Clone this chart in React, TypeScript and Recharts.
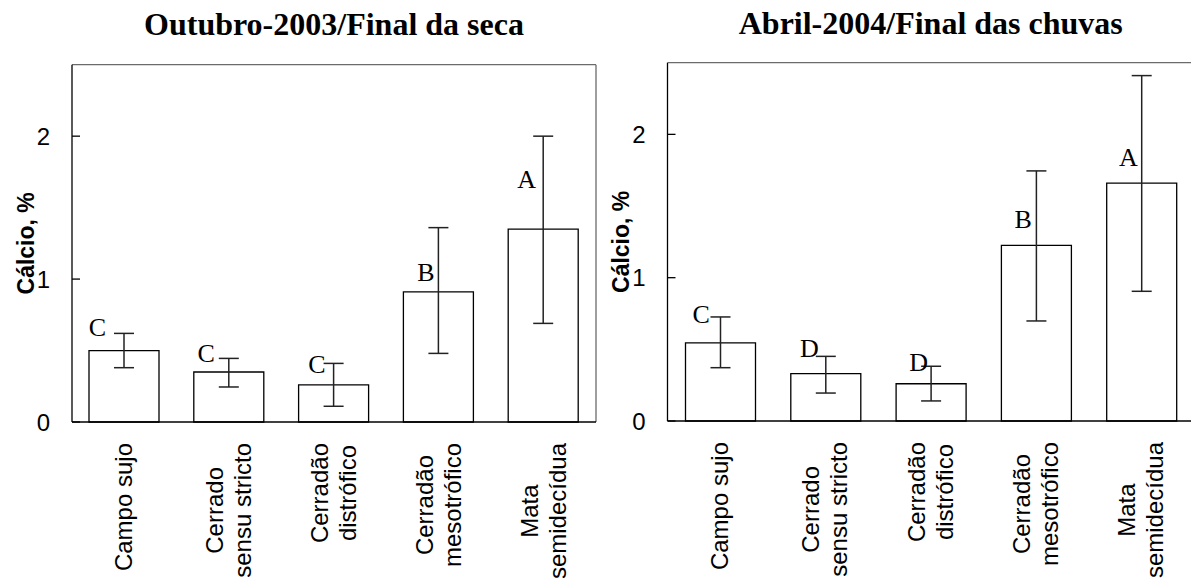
import React from 'react';
import {
  ComposedChart,
  Bar,
  ErrorBar,
  Scatter,
  XAxis,
  YAxis,
  CartesianGrid,
} from 'recharts';

const categories = [
  'Campo sujo',
  'Cerrado\nsensu stricto',
  'Cerradão\ndistrófico',
  'Cerradão\nmesotrófico',
  'Mata\nsemidecídua',
];

// Outubro-2003 / Final da seca
const outMean = [0.5, 0.35, 0.26, 0.91, 1.35];
const outLow = [0.38, 0.245, 0.11, 0.48, 0.69];
const outHigh = [0.62, 0.445, 0.41, 1.36, 2.0];
const outLetters = ['C', 'C', 'C', 'B', 'A'];
const outLetterY = [0.665, 0.485, 0.405, 1.05, 1.7];

// Abril-2004 / Final das chuvas
const abrMean = [0.545, 0.33, 0.26, 1.225, 1.66];
const abrLow = [0.372, 0.195, 0.14, 0.698, 0.905];
const abrHigh = [0.726, 0.451, 0.382, 1.745, 2.41];
const abrLetters = ['C', 'D', 'D', 'B', 'A'];
const abrLetterY = [0.747, 0.509, 0.414, 1.41, 1.842];

const yTicks = [0, 1, 2];
const yDomain: [number, number] = [0, 2.5];

const SANS = "'Liberation Sans', Arial, sans-serif";
const SERIF = "'Liberation Serif', 'Times New Roman', serif";
const LABEL_SIZE = 24;
const Y_AXIS_W = 40;

let measureCtx: CanvasRenderingContext2D | null = null;
const textWidth = (s: string) => {
  if (!measureCtx) measureCtx = document.createElement('canvas').getContext('2d');
  if (!measureCtx) return s.length * LABEL_SIZE * 0.52;
  measureCtx.font = `${LABEL_SIZE}px ${SANS}`;
  return measureCtx.measureText(s).width;
};

const buildRows = (mean: number[], low: number[], high: number[], letters: string[], letterY: number[]) =>
  categories.map((name, i) => ({
    name,
    mean: mean[i],
    err: [mean[i] - low[i], high[i] - mean[i]],
    letter: letters[i],
    letterY: letterY[i],
  }));

const XTick = ({ x, y, payload }: any) => {
  const lines = String(payload.value).split('\n');
  const maxW = Math.max(...lines.map(textWidth));
  const cy = y + 21 + maxW / 2;
  return (
    <g>
      {lines.map((line, i) => {
        const bx = x + 8 + (i - (lines.length - 1) / 2) * 28;
        return (
          <text
            key={i}
            x={bx}
            y={cy}
            transform={`rotate(-90, ${bx}, ${cy})`}
            textAnchor="middle"
            fontFamily={SANS}
            fontSize={LABEL_SIZE}
            fill="#000"
          >
            {line}
          </text>
        );
      })}
    </g>
  );
};

const YTick = ({ x, y, payload }: any) => (
  <g>
    <line x1={x} x2={x + 8} y1={y} y2={y} stroke="#000" strokeWidth={1.3} />
    <text x={x - 22} y={y + 8.5} textAnchor="end" fontFamily={SANS} fontSize={24} fill="#000">
      {payload.value}
    </text>
  </g>
);

interface PanelProps {
  left: number;
  width: number;
  margin: { top: number; right: number; bottom: number; left: number };
  title: string;
  titleTop: number;
  rows: ReturnType<typeof buildRows>;
  letterDx: number[];
}

function Panel({ left, width, margin, title, titleTop, rows, letterDx }: PanelProps) {
  const LetterShape = (props: any) => {
    const { cx, cy, index } = props;
    return (
      <text
        x={cx + letterDx[index]}
        y={cy + 9}
        textAnchor="middle"
        fontFamily={SERIF}
        fontSize={26}
        fill="#000"
      >
        {props.payload.letter}
      </text>
    );
  };

  const plotLeft = margin.left + Y_AXIS_W;
  const plotW = width - margin.right - plotLeft;

  return (
    <div style={{ position: 'absolute', left, top: 0, width, height: 578 }}>
      <div
        style={{
          position: 'absolute',
          left: plotLeft,
          width: plotW,
          top: titleTop,
          textAlign: 'center',
          fontFamily: SERIF,
          fontWeight: 'bold',
          fontSize: 32,
          lineHeight: '32px',
          whiteSpace: 'nowrap',
          color: '#000',
        }}
      >
        {title}
      </div>
      <ComposedChart width={width} height={578} data={rows} margin={margin}>
        <CartesianGrid
          xAxisId="bottom"
          yAxisId="left"
          stroke="#6b6b6b"
          strokeWidth={1.3}
          horizontalCoordinatesGenerator={({ offset }: any) => [offset.top]}
          verticalCoordinatesGenerator={({ offset }: any) => [offset.left + offset.width]}
        />
        <XAxis
          dataKey="name"
          xAxisId="bottom"
          height={150}
          interval={0}
          tickSize={0}
          tickMargin={0}
          tickLine={false}
          axisLine={{ stroke: '#000', strokeWidth: 1.3 }}
          tick={<XTick />}
        />
        <YAxis
          yAxisId="left"
          width={Y_AXIS_W}
          domain={yDomain}
          ticks={yTicks}
          tickSize={0}
          tickMargin={0}
          tickLine={false}
          axisLine={{ stroke: '#000', strokeWidth: 1.3 }}
          tick={<YTick />}
          label={{
            content: ({ viewBox }: any) => {
              const bx = viewBox.x + viewBox.width - 38;
              const cy = viewBox.y + viewBox.height / 2;
              return (
                <text
                  x={bx}
                  y={cy}
                  transform={`rotate(-90, ${bx}, ${cy})`}
                  textAnchor="middle"
                  fontFamily={SANS}
                  fontWeight="bold"
                  fontSize={23}
                  fill="#000"
                >
                  Cálcio, %
                </text>
              );
            },
          }}
        />
        <Bar
          dataKey="mean"
          xAxisId="bottom"
          yAxisId="left"
          barSize={70}
          fill="#fff"
          stroke="#000"
          strokeWidth={1.3}
          isAnimationActive={false}
        >
          <ErrorBar dataKey="err" width={10} stroke="#222" strokeWidth={1.5} />
        </Bar>
        <Scatter
          dataKey="letterY"
          xAxisId="bottom"
          yAxisId="left"
          shape={LetterShape}
          isAnimationActive={false}
        />
      </ComposedChart>
    </div>
  );
}

export default function App() {
  const outRows = buildRows(outMean, outLow, outHigh, outLetters, outLetterY);
  const abrRows = buildRows(abrMean, abrLow, abrHigh, abrLetters, abrLetterY);
  return (
    <div
      style={{
        position: 'absolute',
        left: 0,
        top: 0,
        width: 1191,
        height: 578,
        overflow: 'hidden',
        background: '#fff',
      }}
    >
      <Panel
        left={0}
        width={600}
        margin={{ top: 64.7, right: 4, bottom: 6, left: 32 }}
        title="Outubro-2003/Final da seca"
        titleTop={8}
        rows={outRows}
        letterDx={[-27, -23, -17, -13, -17]}
      />
      <Panel
        left={590}
        width={620}
        margin={{ top: 62.7, right: 16, bottom: 7, left: 37.5 }}
        title="Abril-2004/Final das chuvas"
        titleTop={6.5}
        rows={abrRows}
        letterDx={[-19, -16, -12, -13, -13]}
      />
    </div>
  );
}
